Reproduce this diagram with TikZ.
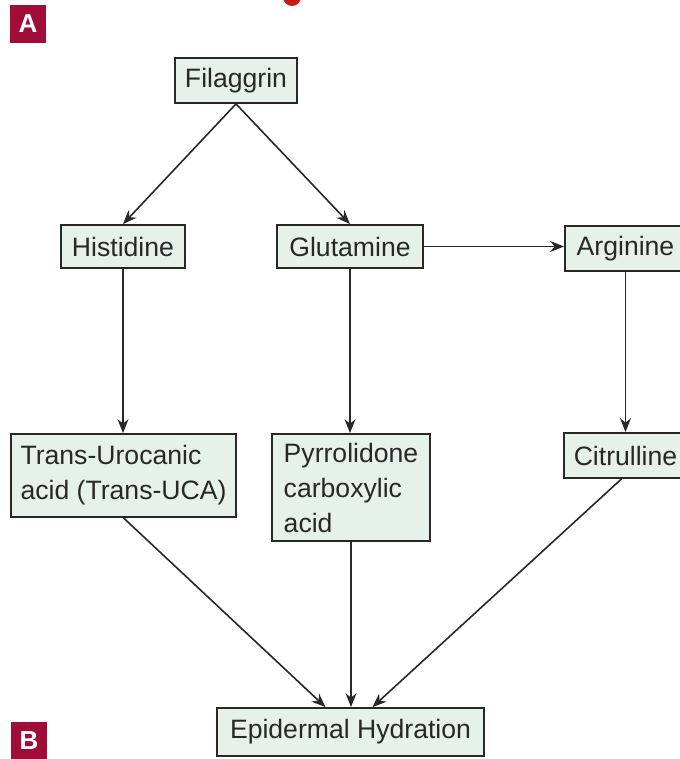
\documentclass[tikz,border=0pt]{standalone}
\usepackage{fontspec}
\setmainfont{Liberation Sans}
\usetikzlibrary{arrows.meta}
\definecolor{boxfill}{RGB}{230,241,234}
\definecolor{badgered}{RGB}{160,14,56}
\definecolor{inkgray}{RGB}{40,40,40}

\begin{document}
\begin{tikzpicture}[x=0.5pt, y=-0.5pt,
	box/.style={rectangle, draw=inkgray, line width=0.9pt, fill=boxfill, text=inkgray, align=left, inner sep=0pt, font=\fontsize{13.3}{17.5}\selectfont},
	badge/.style={rectangle, fill=badgered, text=white, inner sep=0pt, minimum width=18pt, font=\bfseries\fontsize{13}{13}\selectfont},
	link/.style={draw=inkgray, line width=0.8pt, -{Stealth[length=7pt, width=5.5pt]}}]
	\useasboundingbox (0,0) rectangle (679,759);
	\fill[red!75!black!90] (292,-3) circle (9);

	\node (badgeA) [badge, minimum height=19pt] at (28,24) {A};
	\node (badgeB) [badge, minimum height=19pt] at (29,741) {B};

	\node (fil) [box, minimum width=61pt, minimum height=22.5pt] at (236,80.5) {Filaggrin};
	\node (his) [box, minimum width=62pt, minimum height=21.5pt] at (123,246.5) {Histidine};
	\node (glu) [box, minimum width=73pt, minimum height=21.5pt] at (350,246.5) {Glutamine};
	\node (arg) [box, minimum width=60.5pt, minimum height=22.5pt] at (625.5,248.5) {Arginine};
	\node (trans) [box, minimum width=112.5pt, minimum height=41.5pt] at (123.5,475.5) {Trans-Urocanic\\acid (Trans-UCA)};
	\node (pyr) [box, minimum width=79pt, minimum height=53.5pt] at (351,487.5) {Pyrrolidone\\carboxylic\\acid};
	\node (cit) [box, minimum width=61.5pt, minimum height=22.5pt] at (625.5,455.5) {Citrulline};
	\node (epi) [box, minimum width=133.5pt, minimum height=24pt] at (350.5,732) {Epidermal Hydration};

	\draw[link] (fil.south) -- (his.north);
	\draw[link] (fil.south) -- (glu.north);
	\draw[link] (glu.east) -- (glu.east -| arg.west);
	\draw[link] (his.south) -- (his.south |- trans.north);
	\draw[link] (glu.south) -- (glu.south |- pyr.north);
	\draw[link] (arg.south) -- (arg.south |- cit.north);
	\draw[link] (trans.south) -- ([xshift=-12.5pt]epi.north);
	\draw[link] (pyr.south) -- (pyr.south |- epi.north);
	\draw[link] ([xshift=-2pt]cit.south) -- ([xshift=11pt]epi.north);
\end{tikzpicture}
\end{document}
